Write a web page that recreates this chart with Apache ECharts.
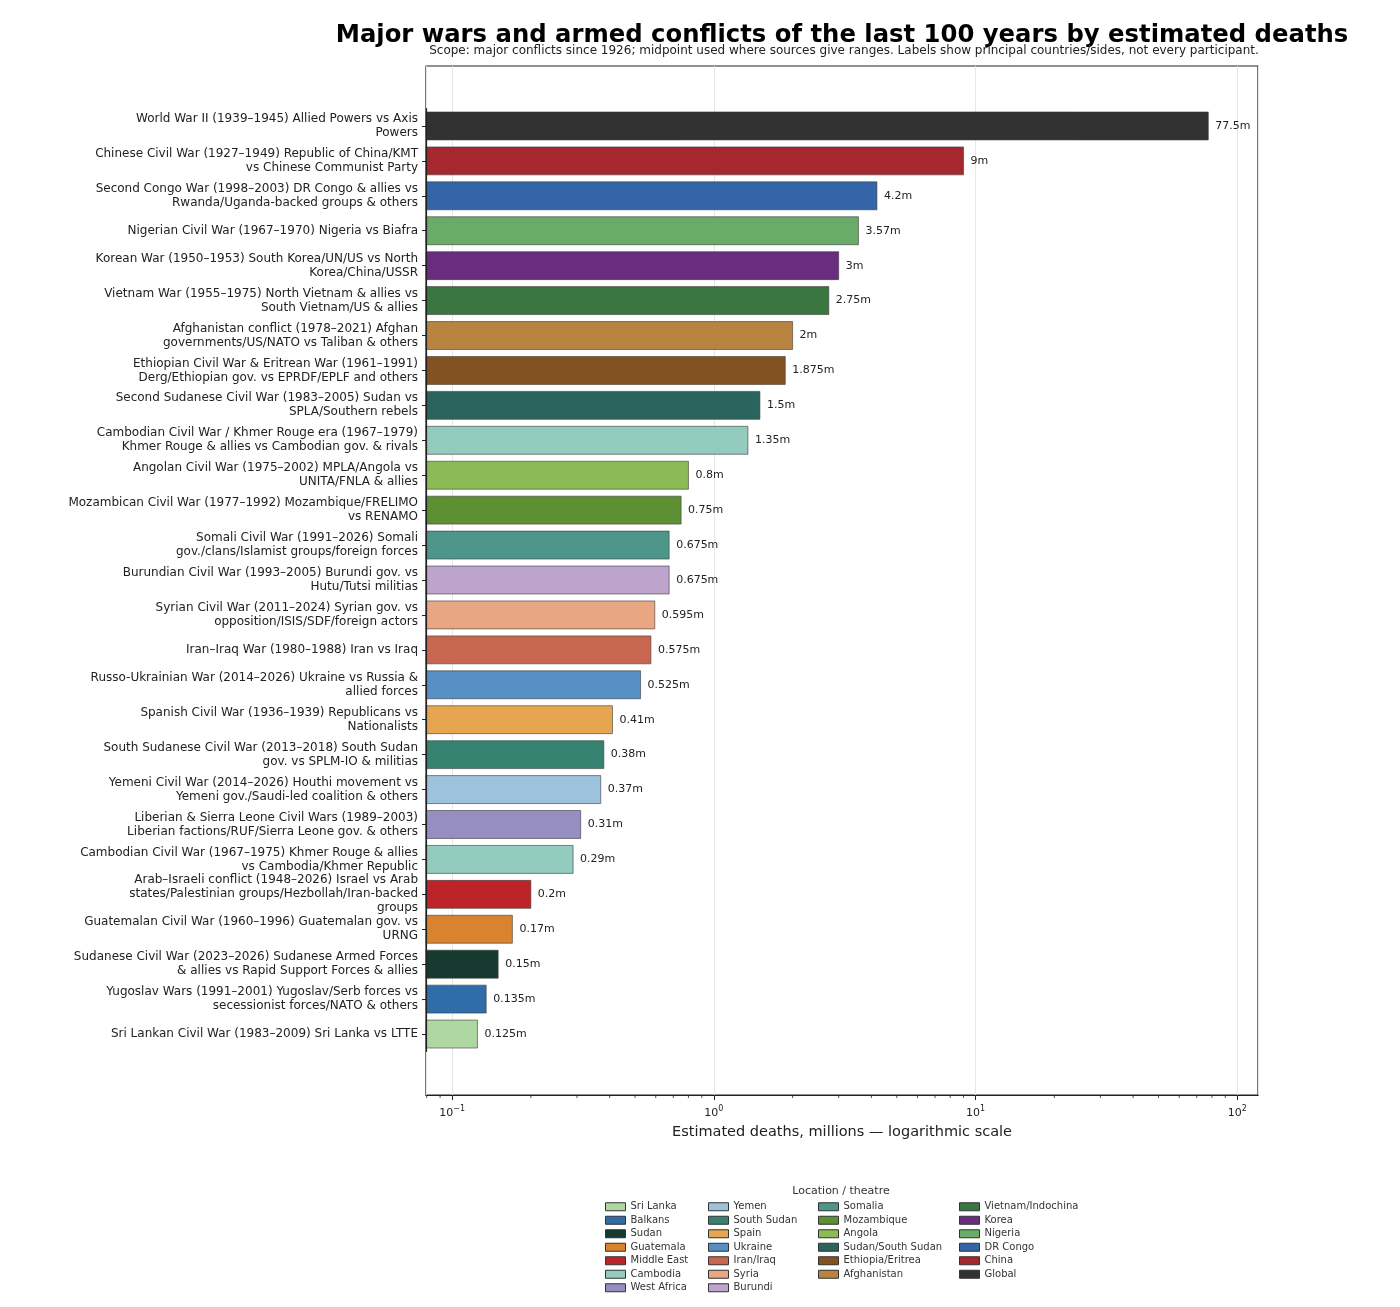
<!DOCTYPE html>
<html><head><meta charset="utf-8">
<script src="https://cdn.jsdelivr.net/npm/echarts@6/dist/echarts.min.js"></script>
<style>html,body{margin:0;padding:0;background:#fff}#chart{width:1400px;height:1307px}</style>
</head><body><div id="chart"></div>
<script>
const categories = [
  "World War II (1939–1945) Allied Powers vs Axis\nPowers",
  "Chinese Civil War (1927–1949) Republic of China/KMT\nvs Chinese Communist Party",
  "Second Congo War (1998–2003) DR Congo & allies vs\nRwanda/Uganda-backed groups & others",
  "Nigerian Civil War (1967–1970) Nigeria vs Biafra",
  "Korean War (1950–1953) South Korea/UN/US vs North\nKorea/China/USSR",
  "Vietnam War (1955–1975) North Vietnam & allies vs\nSouth Vietnam/US & allies",
  "Afghanistan conflict (1978–2021) Afghan\ngovernments/US/NATO vs Taliban & others",
  "Ethiopian Civil War & Eritrean War (1961–1991)\nDerg/Ethiopian gov. vs EPRDF/EPLF and others",
  "Second Sudanese Civil War (1983–2005) Sudan vs\nSPLA/Southern rebels",
  "Cambodian Civil War / Khmer Rouge era (1967–1979)\nKhmer Rouge & allies vs Cambodian gov. & rivals",
  "Angolan Civil War (1975–2002) MPLA/Angola vs\nUNITA/FNLA & allies",
  "Mozambican Civil War (1977–1992) Mozambique/FRELIMO\nvs RENAMO",
  "Somali Civil War (1991–2026) Somali\ngov./clans/Islamist groups/foreign forces",
  "Burundian Civil War (1993–2005) Burundi gov. vs\nHutu/Tutsi militias",
  "Syrian Civil War (2011–2024) Syrian gov. vs\nopposition/ISIS/SDF/foreign actors",
  "Iran–Iraq War (1980–1988) Iran vs Iraq",
  "Russo-Ukrainian War (2014–2026) Ukraine vs Russia &\nallied forces",
  "Spanish Civil War (1936–1939) Republicans vs\nNationalists",
  "South Sudanese Civil War (2013–2018) South Sudan\ngov. vs SPLM-IO & militias",
  "Yemeni Civil War (2014–2026) Houthi movement vs\nYemeni gov./Saudi-led coalition & others",
  "Liberian & Sierra Leone Civil Wars (1989–2003)\nLiberian factions/RUF/Sierra Leone gov. & others",
  "Cambodian Civil War (1967–1975) Khmer Rouge & allies\nvs Cambodia/Khmer Republic",
  "Arab–Israeli conflict (1948–2026) Israel vs Arab\nstates/Palestinian groups/Hezbollah/Iran-backed\ngroups",
  "Guatemalan Civil War (1960–1996) Guatemalan gov. vs\nURNG",
  "Sudanese Civil War (2023–2026) Sudanese Armed Forces\n& allies vs Rapid Support Forces & allies",
  "Yugoslav Wars (1991–2001) Yugoslav/Serb forces vs\nsecessionist forces/NATO & others",
  "Sri Lankan Civil War (1983–2009) Sri Lanka vs LTTE"
];
const deaths = [77.5, 9, 4.2, 3.57, 3, 2.75, 2, 1.875, 1.5, 1.35, 0.8, 0.75, 0.675, 0.675, 0.595, 0.575, 0.525, 0.41, 0.38, 0.37, 0.31, 0.29, 0.2, 0.17, 0.15, 0.135, 0.125];
const locations = ["Global", "China", "DR Congo", "Nigeria", "Korea", "Vietnam/Indochina", "Afghanistan", "Ethiopia/Eritrea", "Sudan/South Sudan", "Cambodia", "Angola", "Mozambique", "Somalia", "Burundi", "Syria", "Iran/Iraq", "Ukraine", "Spain", "South Sudan", "Yemen", "West Africa", "Cambodia", "Middle East", "Guatemala", "Sudan", "Balkans", "Sri Lanka"];
const legendColumns = [
  ["Sri Lanka", "Balkans", "Sudan", "Guatemala", "Middle East", "Cambodia", "West Africa"],
  ["Yemen", "South Sudan", "Spain", "Ukraine", "Iran/Iraq", "Syria", "Burundi"],
  ["Somalia", "Mozambique", "Angola", "Sudan/South Sudan", "Ethiopia/Eritrea", "Afghanistan"],
  ["Vietnam/Indochina", "Korea", "Nigeria", "DR Congo", "China", "Global"]
];
const minorTickValues = [0.08, 0.09, 0.2, 0.3, 0.4, 0.5, 0.6, 0.7, 0.8, 0.9, 2, 3, 4, 5, 6, 7, 8, 9, 20, 30, 40, 50, 60, 70, 80, 90];
const titleText = "Major wars and armed conflicts of the last 100 years by estimated deaths";
const subtitleText = "Scope: major conflicts since 1926; midpoint used where sources give ranges. Labels show principal countries/sides, not every participant.";
const xAxisName = "Estimated deaths, millions — logarithmic scale";
const legendTitle = "Location / theatre";

const locationColors = {
  "Global": "#323232", "China": "#a5282f", "DR Congo": "#3465a8", "Nigeria": "#6aab6a",
  "Korea": "#6a2c7e", "Vietnam/Indochina": "#3a7740", "Afghanistan": "#b8843f",
  "Ethiopia/Eritrea": "#835221", "Sudan/South Sudan": "#2a645c", "Cambodia": "#93cbbf",
  "Angola": "#8cbb55", "Mozambique": "#5c9033", "Somalia": "#4e958a", "Burundi": "#bca4cc",
  "Syria": "#e8a683", "Iran/Iraq": "#c86650", "Ukraine": "#558fc3", "Spain": "#e6a550",
  "South Sudan": "#368270", "Yemen": "#9dc3dc", "West Africa": "#968dc2",
  "Middle East": "#bd242a", "Guatemala": "#d8842f", "Sudan": "#173a30", "Balkans": "#2f6ca8",
  "Sri Lanka": "#aed7a1"
};

const FONT = "DejaVu Sans";
const xMin = 0.0795, xMax = 120;
const chart = echarts.init(document.getElementById('chart'));

const barSeries = categories.map((cat, i) => ({
  type: 'custom',
  name: locations[i],
  xAxisIndex: 1, yAxisIndex: 1,
  itemStyle: { color: locationColors[locations[i]] },
  encode: { x: 0, y: 1 },
  data: [[deaths[i], cat]],
  renderItem: (params, api) => {
    const v = api.value(0);
    const idx = api.value(1);
    const p0 = api.coord([xMin, idx]);
    const p1 = api.coord([v, idx]);
    const band = api.size([1, 1])[1];
    const h = band * 0.8;
    return {
      type: 'group', children: [
        { type: 'rect', shape: { x: p0[0], y: p1[1] - h / 2, width: p1[0] - p0[0], height: h },
          style: { fill: api.visual('color'), stroke: 'rgba(60,60,60,0.6)', lineWidth: 1 } },
        { type: 'text', x: p1[0] + 7, y: p1[1],
          style: { text: String(v) + 'm', fontFamily: FONT, fontSize: 11, fill: '#222', verticalAlign: 'middle', align: 'left' } }
      ]
    };
  }
}));

const minorSeries = {
  type: 'custom', name: '_minor', xAxisIndex: 0, yAxisIndex: 0, silent: true,
  data: minorTickValues.map(v => [v, 0]),
  encode: { x: 0, y: 1 },
  renderItem: (params, api) => {
    const p = api.coord([api.value(0), 0]);
    return { type: 'line', shape: { x1: p[0], y1: p[1], x2: p[0], y2: p[1] + 3 }, style: { stroke: '#222', lineWidth: 0.8 } };
  }
};

const legendX = [605, 708, 818, 959];

chart.setOption({
  animation: false,
  backgroundColor: '#fff',
  title: [
    { text: titleText, left: 842, textAlign: 'center', top: 24, padding: 0,
      textStyle: { fontFamily: FONT, fontWeight: 'bold', fontSize: 24.3, color: '#000' } },
    { text: subtitleText, left: 844, textAlign: 'center', top: 45, padding: 0,
      textStyle: { fontFamily: FONT, fontWeight: 'normal', fontSize: 12, color: '#222' } },
    { text: legendTitle, left: 841, textAlign: 'center', top: 1186, padding: 0,
      textStyle: { fontFamily: FONT, fontWeight: 'normal', fontSize: 11, color: '#333' } }
  ],
  legend: legendColumns.map((col, k) => ({
    orient: 'vertical', left: legendX[k], top: 1200, padding: 0,
    data: col, icon: 'rect', itemWidth: 20, itemHeight: 8, itemGap: 0, selectedMode: false,
    textStyle: { fontFamily: FONT, fontSize: 10, color: '#333', lineHeight: 13.5 },
    itemStyle: { borderColor: '#333', borderWidth: 1 }
  })),
  grid: [
    { left: 426, top: 66, width: 832, height: 1029, show: true, borderColor: '#222', borderWidth: 1.2, backgroundColor: 'transparent' },
    { left: 426, top: 108.5, width: 832, height: 943 }
  ],
  xAxis: [
    { gridIndex: 0, type: 'log', logBase: 10, min: xMin, max: xMax, position: 'bottom',
      axisLine: { show: true, onZero: false, lineStyle: { color: '#222', width: 1.2 } },
      axisTick: { show: true, length: 5, lineStyle: { color: '#222', width: 1 } },
      axisLabel: {
        showMinLabel: false, showMaxLabel: false, margin: 10, color: '#222',
        formatter: (v) => {
          const e = Math.log10(v), r = Math.round(e);
          if (Math.abs(e - r) > 1e-6) return '';
          return '{b|10}{s|' + (r < 0 ? '\u2212' + (-r) : String(r)) + '}';
        },
        rich: {
          b: { fontFamily: FONT, fontSize: 11, color: '#222' },
          s: { fontFamily: FONT, fontSize: 8, color: '#222', padding: [0, 0, 8, 0] }
        }
      },
      splitLine: { show: true, lineStyle: { color: '#e6e6e6', width: 1 } },
      name: xAxisName, nameLocation: 'middle', nameGap: 30,
      nameTextStyle: { fontFamily: FONT, fontSize: 14.5, color: '#222' } },
    { gridIndex: 1, type: 'log', logBase: 10, min: xMin, max: xMax, show: false }
  ],
  yAxis: [
    { gridIndex: 0, type: 'value', min: 0, max: 1, show: false },
    { gridIndex: 1, type: 'category', data: categories, inverse: true, z: 10,
      axisLine: { show: true, lineStyle: { color: '#222', width: 1.2 } },
      axisTick: { show: true, alignWithLabel: true, length: 4, lineStyle: { color: '#222' } },
      axisLabel: { fontFamily: FONT, fontSize: 12, color: '#222', lineHeight: 14, margin: 8, align: 'right', interval: 0 },
      splitLine: { show: false } }
  ],
  series: [minorSeries].concat(barSeries)
});
</script>
</body></html>
